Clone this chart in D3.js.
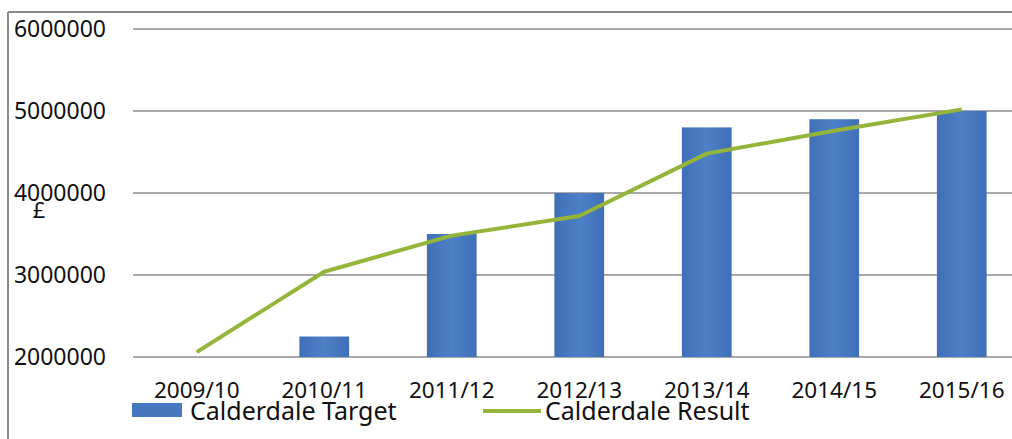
<!DOCTYPE html>
<html>
<head>
<meta charset="utf-8">
<script src="https://cdn.jsdelivr.net/npm/d3@7"></script>
<style>
  body { margin: 0; background: #fff; }
  text { font-family: "Noto Sans", "Open Sans", sans-serif; fill: #111; }
</style>
</head>
<body>
<div id="chart"></div>
<script>
// Chart data
var years = ["2009/10", "2010/11", "2011/12", "2012/13", "2013/14", "2014/15", "2015/16"];
var targetValues = [null, 2250000, 3500000, 4000000, 4800000, 4900000, 5000000];
var resultValues = [2060000, 3040000, 3480000, 3720000, 4480000, 4760000, 5020000];
var yTicks = [2000000, 3000000, 4000000, 5000000, 6000000];
var seriesNames = ["Calderdale Target", "Calderdale Result"];

var width = 1012;
var height = 439;

var svg = d3
  .select("#chart")
  .append("svg")
  .attr("width", width)
  .attr("height", height);

// Outer frame (top and left edges only show in the picture)
svg.append("line")
  .attr("x1", 8).attr("x2", width).attr("y1", 12).attr("y2", 12)
  .attr("stroke", "#8a8a8a").attr("stroke-width", 2);
svg.append("line")
  .attr("x1", 8).attr("x2", 8).attr("y1", 12).attr("y2", height)
  .attr("stroke", "#8a8a8a").attr("stroke-width", 2);

// Scales
var xScale = d3
  .scaleBand()
  .domain(years)
  .range([133, 1025.5])
  .paddingInner(0.61)
  .paddingOuter(0.305);

var yScale = d3
  .scaleLinear()
  .domain([2000000, 6000000])
  .range([357, 29]);

// Gridlines
svg.append("g")
  .selectAll("line")
  .data(yTicks)
  .enter()
  .append("line")
  .attr("x1", 133)
  .attr("x2", width)
  .attr("y1", function(d) { return yScale(d); })
  .attr("y2", function(d) { return yScale(d); })
  .attr("stroke", "#8c8c8c")
  .attr("stroke-width", 1.3);

// Y axis labels
var yAxis = d3.axisLeft(yScale).tickValues(yTicks).tickSize(0).tickPadding(0)
  .tickFormat(d3.format("d"));
var yG = svg.append("g")
  .attr("transform", "translate(106,0)")
  .call(yAxis);
yG.select(".domain").remove();
yG.selectAll("text").style("font-size", "23px").attr("fill", "#111");

// Y axis title
svg.append("text")
  .attr("x", 39)
  .attr("y", 218)
  .attr("text-anchor", "middle")
  .style("font-size", "22px")
  .text("£");

// X axis labels
var xAxis = d3.axisBottom(xScale).tickSize(0).tickPadding(25);
var xG = svg.append("g")
  .attr("transform", "translate(0,357)")
  .call(xAxis);
xG.select(".domain").remove();
xG.selectAll("text").style("font-size", "22.5px").attr("fill", "#111");

// Gradient for bars
var defs = svg.append("defs");
var grad = defs.append("linearGradient").attr("id", "barGrad")
  .attr("x1", "0%").attr("x2", "100%").attr("y1", "0%").attr("y2", "0%");
grad.append("stop").attr("offset", "0%").attr("stop-color", "#3f6fb8");
grad.append("stop").attr("offset", "50%").attr("stop-color", "#4d80c6");
grad.append("stop").attr("offset", "100%").attr("stop-color", "#3f6fb8");

// Bars
var barData = years.map(function(y, i) { return { year: y, value: targetValues[i] }; })
  .filter(function(d) { return d.value !== null; });

svg.append("g")
  .selectAll("rect")
  .data(barData)
  .enter()
  .append("rect")
  .attr("x", function(d) { return xScale(d.year); })
  .attr("width", xScale.bandwidth())
  .attr("y", function(d) { return yScale(d.value); })
  .attr("height", function(d) { return yScale(2000000) - yScale(d.value); })
  .attr("fill", "url(#barGrad)");

// Result line
var line = d3.line()
  .x(function(d, i) { return xScale(years[i]) + xScale.bandwidth() / 2; })
  .y(function(d) { return yScale(d); });

svg.append("path")
  .datum(resultValues)
  .attr("d", line)
  .attr("fill", "none")
  .attr("stroke", "#94b53a")
  .attr("stroke-width", 4)
  .attr("stroke-linejoin", "round");

// Legend
var legend = svg.append("g");
legend.append("rect")
  .attr("x", 132).attr("y", 403).attr("width", 50).attr("height", 14)
  .attr("fill", "#4677bf");
legend.append("text")
  .attr("x", 190).attr("y", 420)
  .style("font-size", "25px")
  .text(seriesNames[0]);
legend.append("line")
  .attr("x1", 483).attr("x2", 541).attr("y1", 411).attr("y2", 411)
  .attr("stroke", "#94b53a").attr("stroke-width", 4);
legend.append("text")
  .attr("x", 545).attr("y", 420)
  .style("font-size", "25px")
  .text(seriesNames[1]);
</script>
</body>
</html>
